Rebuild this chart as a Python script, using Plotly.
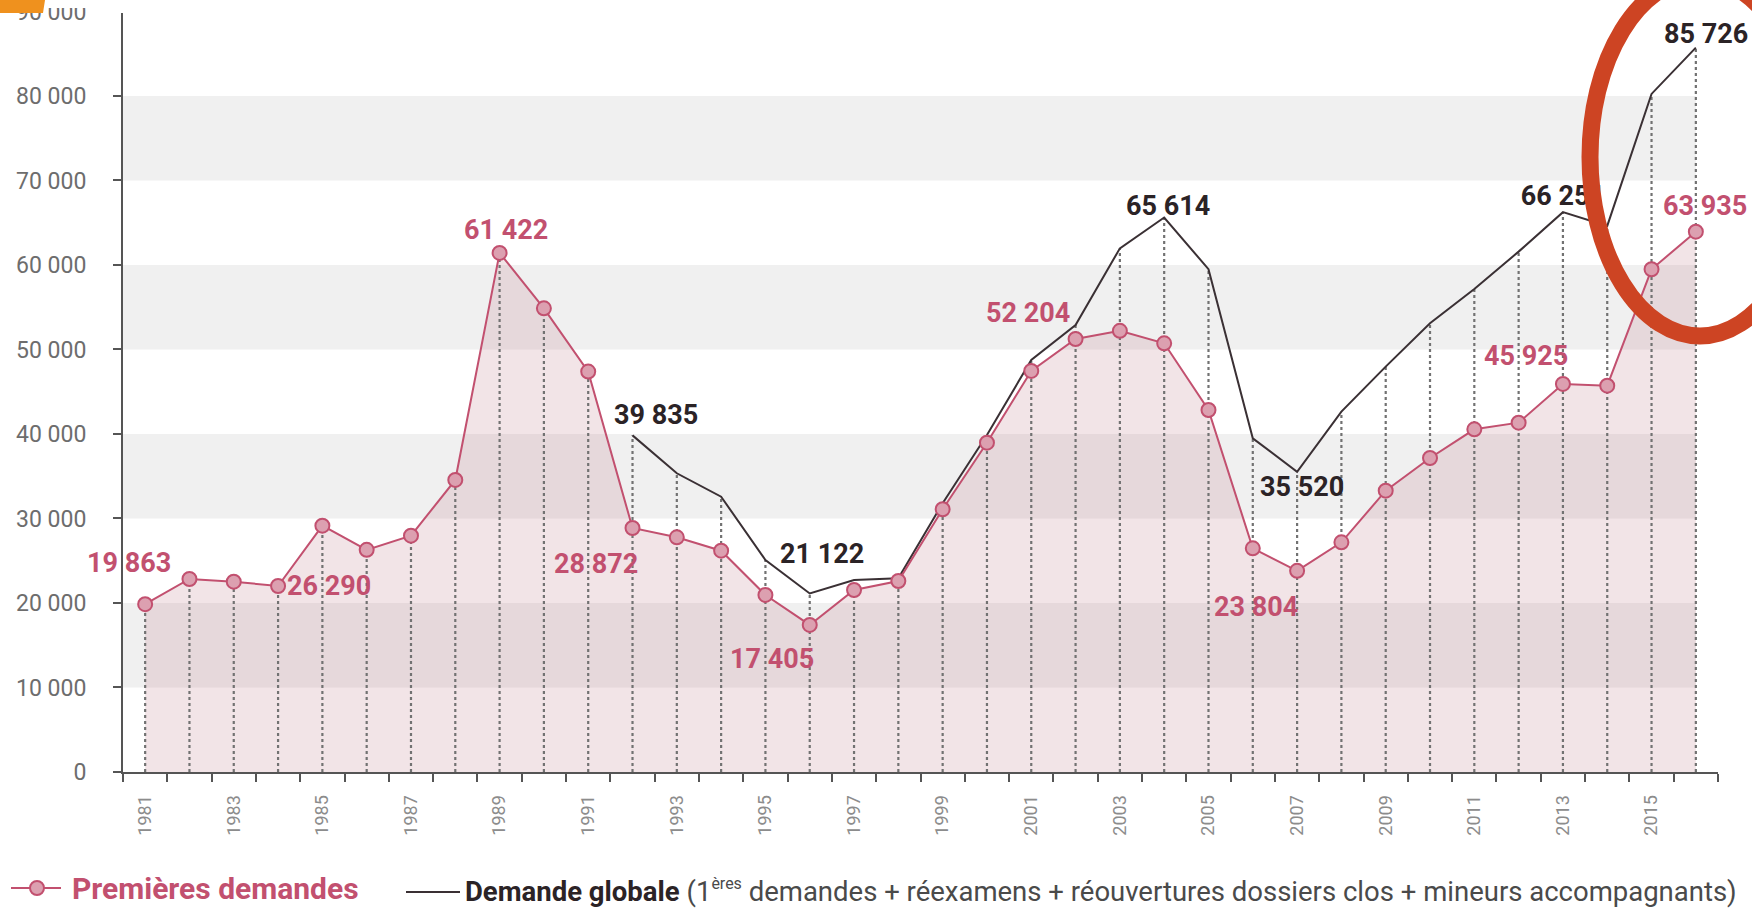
import plotly.graph_objects as go

# ---------------- data ----------------
years = list(range(1981, 2017))
premieres = [19863, 22840, 22520, 22010, 29150, 26290, 27970, 34560, 61422, 54870,
             47380, 28872, 27770, 26190, 20950, 17405, 21540, 22600, 31090, 38970,
             47460, 51240, 52204, 50730, 42840, 26470, 23804, 27180, 33290, 37160,
             40550, 41340, 45925, 45720, 59490, 63935]
globale_years = list(range(1992, 2017))
globale = [39835, 35350, 32580, 25090, 21122, 22720, 22920, 31800, 39880, 48760,
           52900, 61970, 65614, 59500, 39490, 35520, 42640, 47970, 53100, 57160,
           61580, 66251, 64620, 80240, 85726]
y_ticks = list(range(0, 90001, 10000))
x_label_years = list(range(1981, 2016, 2))
pink_label_years = [1981, 1986, 1989, 1992, 1996, 2003, 2007, 2013, 2016]
black_label_years = [1992, 1996, 2004, 2007, 2016]
hidden_label_year = 2013
legend_premieres = "Premières demandes"
legend_globale_bold = "Demande globale"
legend_globale_rest = ("(1<sup><span style='font-size:16px'>ères</span></sup> demandes + réexamens"
                       " + réouvertures dossiers clos + mineurs accompagnants)")

# ---------------- style ----------------
W, H = 1752, 909
ML, MR, MT, MB = 123, 34, 3, 137
Y_MAX = 91000
PINK = "#c2506f"
PINK_MARKER = "#dca0b0"
PINK_FILL = "rgba(190,120,135,0.2)"
DARK = "#3a3034"
LABEL_DARK = "#2b2326"
BAND = "#f0f0f0"
DOT = "#727272"
AXIS = "#555555"
RED = "#cd4423"
ORANGE = "#ef911e"
FONT = "Roboto"

pink_offsets = {1981: (-16, 41), 1986: (-38, -36), 1989: (6, 23), 1992: (-37, -36),
                1996: (-38, -34), 2003: (-92, 18), 2007: (-41, -36), 2013: (-37, 28),
                2016: (9, 26)}
black_offsets = {1992: (23, 20), 1996: (12, 40), 2004: (4, 12), 2007: (5, -15),
                 2016: (10, 14)}


def px(xp):
    return (xp - ML) / (W - ML - MR)


def py(yp):
    return (H - MB - yp) / (H - MT - MB)


def fmt(v):
    return f"{v:,}".replace(",", " ")


pink_map = dict(zip(years, premieres))
glob_map = dict(zip(globale_years, globale))

fig = go.Figure()

# area fill
fig.add_trace(go.Scatter(x=years, y=premieres, mode="lines", line=dict(width=0),
                         fill="tozeroy", fillcolor=PINK_FILL, hoverinfo="skip"))

# dotted drop lines
dx, dy = [], []
for yr in years:
    top = max(pink_map[yr], glob_map.get(yr, 0))
    dx += [yr, yr, None]
    dy += [0, top, None]
fig.add_trace(go.Scatter(x=dx, y=dy, mode="lines",
                         line=dict(color=DOT, width=2.2, dash="3px,3px"),
                         hoverinfo="skip"))

# global demand line
fig.add_trace(go.Scatter(x=globale_years, y=globale, mode="lines",
                         line=dict(color=DARK, width=2)))

# first demands line
fig.add_trace(go.Scatter(x=years, y=premieres, mode="lines+markers",
                         line=dict(color=PINK, width=2),
                         marker=dict(size=14, color=PINK_MARKER,
                                     line=dict(color=PINK, width=2))))

# label partly hidden by the ellipse
fig.add_trace(go.Scatter(x=[hidden_label_year], y=[glob_map[hidden_label_year]],
                         mode="text", text=["<b>" + fmt(glob_map[hidden_label_year]) + "</b>"],
                         textposition="top center",
                         textfont=dict(family=FONT, size=27, color=LABEL_DARK)))

shapes = []
# bands
for i in range(1, len(y_ticks) - 1, 2):
    shapes.append(dict(type="rect", xref="x", yref="y", x0=1980.5, x1=2016,
                       y0=y_ticks[i], y1=y_ticks[i + 1], fillcolor=BAND,
                       line=dict(width=0), layer="below"))

# ellipse
shapes.append(dict(type="circle", xref="paper", yref="paper",
                   x0=px(1590), x1=px(1810), y0=py(336), y1=py(-22),
                   line=dict(color=RED, width=17), layer="above"))
# white covers top-left (cut label top and axis stub) + orange tab
shapes.append(dict(type="rect", xref="paper", yref="paper",
                   x0=px(0), x1=px(130), y0=py(8), y1=py(0),
                   fillcolor="white", line=dict(width=0), layer="above"))
shapes.append(dict(type="rect", xref="paper", yref="paper",
                   x0=px(112), x1=px(130), y0=py(13), y1=py(0),
                   fillcolor="white", line=dict(width=0), layer="above"))
shapes.append(dict(type="path", xref="paper", yref="paper",
                   path=f"M {px(0)},{py(0)} L {px(45)},{py(0)} L {px(43)},{py(13)} L {px(0)},{py(13)} Z",
                   fillcolor=ORANGE, line=dict(width=0), layer="above"))
# legend glyphs
shapes.append(dict(type="line", xref="paper", yref="paper",
                   x0=px(11), x1=px(61), y0=py(888), y1=py(888),
                   line=dict(color=PINK, width=2)))
shapes.append(dict(type="circle", xref="paper", yref="paper",
                   x0=px(30), x1=px(44), y0=py(895), y1=py(881),
                   fillcolor=PINK_MARKER, line=dict(color=PINK, width=2)))
shapes.append(dict(type="line", xref="paper", yref="paper",
                   x0=px(406), x1=px(460), y0=py(892), y1=py(892),
                   line=dict(color=DARK, width=2)))

annotations = []
for yr in pink_label_years:
    ox, oy = pink_offsets[yr]
    annotations.append(dict(x=yr, y=pink_map[yr], xref="x", yref="y",
                            text="<b>" + fmt(pink_map[yr]) + "</b>", showarrow=False,
                            xshift=ox, yshift=oy, xanchor="center", yanchor="middle",
                            font=dict(family=FONT, size=27, color=PINK)))
for yr in black_label_years:
    ox, oy = black_offsets[yr]
    annotations.append(dict(x=yr, y=glob_map[yr], xref="x", yref="y",
                            text="<b>" + fmt(glob_map[yr]) + "</b>", showarrow=False,
                            xshift=ox, yshift=oy, xanchor="center", yanchor="middle",
                            font=dict(family=FONT, size=27, color=LABEL_DARK)))

annotations.append(dict(x=px(70), y=py(888), xref="paper", yref="paper",
                        text="<b>" + legend_premieres + "</b>", showarrow=False,
                        xanchor="left", yanchor="middle",
                        font=dict(family=FONT, size=30, color=PINK)))
annotations.append(dict(x=px(463), y=py(891), xref="paper", yref="paper",
                        text="<b>" + legend_globale_bold + "</b> <span style='color:#4a4a4a'>"
                             + legend_globale_rest + "</span>",
                        showarrow=False, xanchor="left", yanchor="middle",
                        font=dict(family=FONT, size=27.5, color=LABEL_DARK)))

fig.update_layout(
    width=W, height=H, autosize=False,
    margin=dict(l=ML, r=MR, t=MT, b=MB, pad=0, autoexpand=False),
    plot_bgcolor="white", paper_bgcolor="white",
    showlegend=False, separators=", ",
    shapes=shapes, annotations=annotations,
    xaxis=dict(range=[1980.5, 2016.5], tickmode="array", tickvals=x_label_years,
               ticktext=[str(y) for y in x_label_years], tickangle=-90,
               ticks="", showgrid=False, zeroline=False, automargin=False,
               showline=True, linecolor=AXIS, linewidth=2,
               ticklabelstandoff=14,
               tickfont=dict(family=FONT, size=18, color="#8c8c8c"),
               minor=dict(tickmode="array",
                          tickvals=[y - 0.5 for y in years] + [years[-1] + 0.5],
                          ticks="outside", ticklen=8, tickcolor=AXIS, tickwidth=2,
                          showgrid=False)),
    yaxis=dict(range=[0, Y_MAX], tickmode="array", tickvals=y_ticks,
               tickformat=",d", ticklabeloverflow="allow", automargin=False,
               ticks="outside", ticklen=8, tickcolor=AXIS, tickwidth=2,
               showgrid=False, zeroline=False,
               showline=True, linecolor=AXIS, linewidth=2,
               ticklabelstandoff=22,
               tickfont=dict(family=FONT, size=23, color="#6d6d6d")),
)

fig.write_html("out.html", config={"displayModeBar": False},
               post_script="document.body.style.margin='0px';")
